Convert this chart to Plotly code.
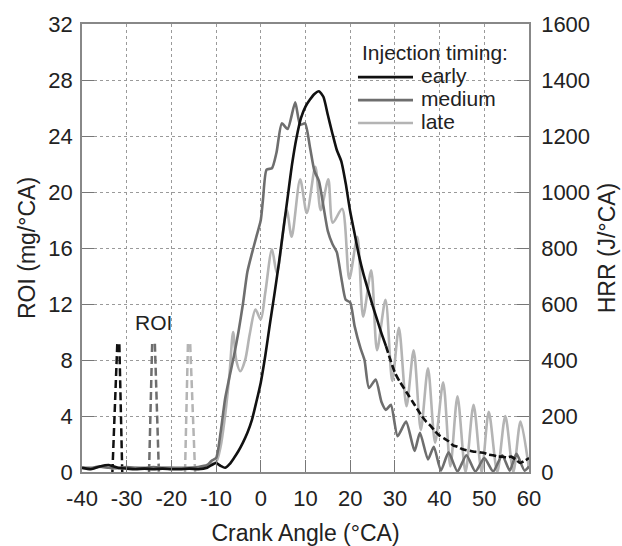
import plotly.graph_objects as go

# ---- data ----
# Heat release rate (J/°CA), right axis
early_x = [-40,-38,-36,-34,-32,-30,-28,-26,-24,-22,-20,-18,-16,-14,-12,-11,-10,-9,-8,-7,-6,-5,-4,-3,-2,-1,
           0,1,2,3,4,5,6,7,8,9,10,11,12,13,14,15,16,17,18,19,20,21,22,23,24,25,26,27,28,29,30,31,32,33,34,35,
           36,37,38,39,40,41,42,43,44,45,46,47,48,49,50,51,52,53,54,55,56,57,58,59,60]
early_hrr = [15,10,20,25,15,12,10,12,10,12,10,10,12,10,15,25,32,22,15,28,50,75,105,140,185,250,
             320,415,525,630,740,860,980,1100,1195,1265,1305,1330,1350,1360,1340,1275,1210,1150,1110,1030,930,850,
             770,705,650,595,545,495,450,400,355,325,300,275,250,225,200,180,165,145,130,120,110,95,90,82,78,75,
             72,70,68,62,60,55,55,52,55,45,32,40,50]

medium_x = [-40,-38,-36,-34,-32,-30,-28,-26,-24,-22,-20,-18,-16,-14,-12,-11,-10,-9,-8,-7,-6,-5,-4,-3,-2,-1,
            0,0.5,1.3,2.5,3.5,4.7,6.0,7.7,8.8,9.9,11,12,13,14,15,16,17,18,19,20,21,22.3,23.2,24.2,25.7,27,28,
            29.1,30.6,32.5,34.4,35.6,37.4,38.7,40.3,42,44,46,48,50,52,54,55.7,57.2,59,60]
medium_hrr = [15,15,20,15,15,18,15,15,18,15,15,15,15,18,25,40,50,140,260,340,415,500,600,715,780,840,
              900,975,1080,1085,1140,1245,1225,1320,1240,1245,1160,1075,1040,950,860,815,785,695,615,605,520,442,
              400,300,330,250,222,240,128,180,75,140,45,90,5,70,2,60,2,50,2,60,5,65,5,20]

late_x = [-40,-38,-36,-34,-32,-30,-28,-26,-24,-22,-20,-18,-16,-14,-12,-11,-10,-9,-8,-7,-6.2,-5.5,-4.6,-3.5,
          -2.5,-1.2,0,1,2.5,3.6,5.8,6.9,8.8,10.3,12.2,13.4,15.1,16.1,18.2,19.8,21.6,22.9,24.7,26,27.9,29.4,
          30.9,32.6,34.2,35.8,37.4,39,40.8,42.4,44,45.8,47.6,49.4,51,52.9,54.7,56.5,58.1,60]
late_hrr = [15,12,18,15,12,15,15,12,15,15,15,12,15,15,20,30,35,90,200,350,500,400,360,400,
            490,580,545,640,795,710,935,840,1045,925,1090,935,1045,890,940,690,840,555,720,435,615,325,
            515,235,435,150,370,105,320,20,270,0,240,0,215,0,200,0,180,10]

# Rate of injection (mg/°CA), left axis
roi_early_x = [-33.2, -32.1, -31.65, -31.0]
roi_early = [0, 9.2, 9.2, 0]
roi_medium_x = [-25.0, -24.3, -23.7, -22.8]
roi_medium = [0, 9.2, 9.2, 0]
roi_late_x = [-16.95, -16.3, -15.8, -14.7]
roi_late = [0, 9.2, 9.2, 0]

x_ticks = [-40, -30, -20, -10, 0, 10, 20, 30, 40, 50, 60]
x_ticktext = ["-40", "-30", "-20", "-10", "0", "10", "20", "30", "40", "50", "60"]

legend_names = ["early", "medium", "late"]

C_EARLY = "#111111"
C_MED = "#6e6e6e"
C_LATE = "#b4b4b4"
FONT = "Liberation Sans, Arial, sans-serif"

fig = go.Figure()

# ROI pulses (dashed)
for rx, ry, c in [(roi_late_x, roi_late, C_LATE), (roi_medium_x, roi_medium, C_MED),
                  (roi_early_x, roi_early, C_EARLY)]:
    fig.add_trace(go.Scatter(x=rx, y=ry, mode="lines", yaxis="y",
                             line=dict(color=c, width=2.5, dash="8px,4px"),
                             showlegend=False, hoverinfo="skip"))

# HRR curves
fig.add_trace(go.Scatter(x=late_x, y=late_hrr, mode="lines", name="late", yaxis="y2", showlegend=False,
                         line=dict(color=C_LATE, width=2.6, shape="spline", smoothing=0.8)))
fig.add_trace(go.Scatter(x=medium_x, y=medium_hrr, mode="lines", name="medium", yaxis="y2", showlegend=False,
                         line=dict(color=C_MED, width=2.6, shape="spline", smoothing=0.6)))

split = early_x.index(28)
fig.add_trace(go.Scatter(x=early_x[:split + 1], y=early_hrr[:split + 1], mode="lines", name="early",
                         yaxis="y2", showlegend=False,
                         line=dict(color=C_EARLY, width=2.6, shape="spline", smoothing=0.6)))
fig.add_trace(go.Scatter(x=early_x[split:], y=early_hrr[split:], mode="lines", yaxis="y2",
                         showlegend=False,
                         line=dict(color=C_EARLY, width=2.6, shape="spline", smoothing=0.6, dash="7px,3px")))

fig.add_annotation(x=-23.9, y=10.7, xref="x", yref="y", text="ROI", showarrow=False,
                   font=dict(size=21, color="#222", family=FONT))

# Legend box (drawn in paper coordinates)
fig.add_annotation(x=0.622, y=0.9375, xref="paper", yref="paper", xanchor="left", yanchor="middle",
                   text="Injection timing:", showarrow=False, font=dict(size=21, color="#222", family=FONT))
leg_rows = [0.8815, 0.830, 0.779]
for name, c, ly in zip(legend_names, [C_EARLY, C_MED, C_LATE], leg_rows):
    fig.add_shape(type="line", xref="paper", yref="paper", x0=0.6174, x1=0.7405, y0=ly, y1=ly,
                  line=dict(color=c, width=2.6))
    fig.add_annotation(x=0.7545, y=ly + 0.003, xref="paper", yref="paper", xanchor="left", yanchor="middle",
                       text=name, showarrow=False, font=dict(size=21, color="#222", family=FONT))

axis_common = dict(showline=True, linecolor="#888", linewidth=1.5, ticks="inside", ticklen=12,
                   tickcolor="#777", tickwidth=1.2, tickfont=dict(size=22, color="#222", family=FONT),
                   zeroline=False)

fig.update_layout(
    width=622, height=546,
    margin=dict(l=82, r=93, t=24, b=74, autoexpand=False),
    paper_bgcolor="white", plot_bgcolor="white",
    font=dict(family=FONT, color="#222"),
    showlegend=False,
    xaxis=dict(range=[-40, 60], tickvals=x_ticks, ticktext=x_ticktext, mirror=True,
               showgrid=True, gridcolor="#9a9a9a", gridwidth=1, griddash="dot",
               ticklabelstandoff=6,
               title=dict(text="Crank Angle (°CA)", font=dict(size=23, color="#222", family=FONT), standoff=21),
               **axis_common),
    yaxis=dict(range=[0, 32], tickvals=[0, 4, 8, 12, 16, 20, 24, 28, 32],
               showgrid=True, gridcolor="#9a9a9a", gridwidth=1, griddash="3px,3px",
               ticklabelstandoff=3,
               title=dict(text="ROI (mg/°CA)", font=dict(size=23, color="#222", family=FONT), standoff=6),
               **axis_common),
    yaxis2=dict(range=[0, 1600], tickvals=[0, 200, 400, 600, 800, 1000, 1200, 1400, 1600],
                overlaying="y", side="right", showgrid=False, ticklabelstandoff=6,
                title=dict(text="HRR (J/°CA)", font=dict(size=23, color="#222", family=FONT), standoff=10),
                **axis_common),
)

fig.write_html("out.html")
